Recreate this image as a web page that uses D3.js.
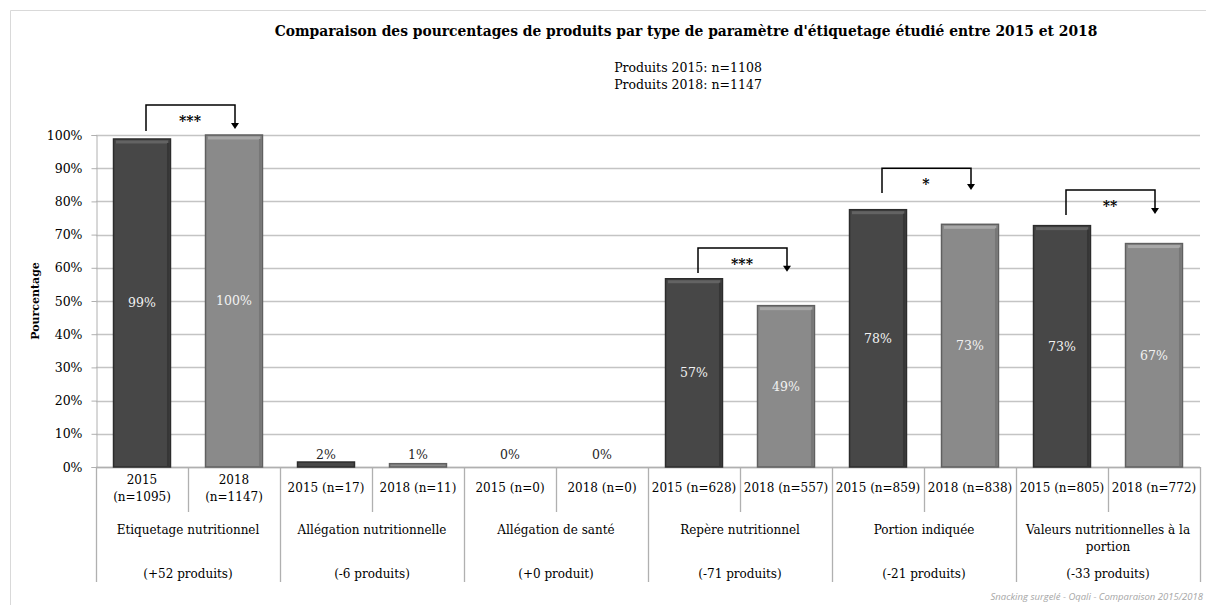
<!DOCTYPE html>
<html>
<head>
<meta charset="utf-8">
<script src="https://cdn.jsdelivr.net/npm/d3@7"></script>
<style>
  body { margin: 0; background: #fff; }
  svg { display: block; font-family: "DejaVu Serif", serif; }
</style>
</head>
<body>
<svg id="chart" width="1206" height="605"></svg>
<script>

// Chart data
const groups = ["Etiquetage nutritionnel", "Allégation nutritionnelle", "Allégation de santé",
  "Repère nutritionnel", "Portion indiquée", "Valeurs nutritionnelles à la portion"];
const groupChanges = ["(+52 produits)", "(-6 produits)", "(+0 produit)",
  "(-71 produits)", "(-21 produits)", "(-33 produits)"];
const labels2015 = ["2015 (n=1095)", "2015 (n=17)", "2015 (n=0)", "2015 (n=628)", "2015 (n=859)", "2015 (n=805)"];
const labels2018 = ["2018 (n=1147)", "2018 (n=11)", "2018 (n=0)", "2018 (n=557)", "2018 (n=838)", "2018 (n=772)"];
const values2015 = [98.8, 1.5, 0, 56.7, 77.5, 72.7];
const values2018 = [100, 1.0, 0, 48.6, 73.1, 67.3];
const valueLabels2015 = ["99%", "2%", "0%", "57%", "78%", "73%"];
const valueLabels2018 = ["100%", "1%", "0%", "49%", "73%", "67%"];
const yTicks = [0, 10, 20, 30, 40, 50, 60, 70, 80, 90, 100];

// Significance brackets (group index, heights in %)
const bracketGroups = [0, 3, 4, 5];
const bracketTop = [109, 66, 90, 83.4];
const bracketStart = [101.2, 58.4, 82.5, 75.9];
const bracketEnd = [101.8, 58.8, 83.4, 76.2];
const bracketStars = ["***", "***", "*", "**"];

const titleText = "Comparaison des pourcentages de produits par type de paramètre d'étiquetage étudié entre 2015 et 2018";
const subtitleLines = ["Produits 2015: n=1108", "Produits 2018: n=1147"];
const yTitle = "Pourcentage";
const footerText = "Snacking surgelé - Oqali - Comparaison 2015/2018";

// Build one row per bar
const bars = [];
groups.forEach((g, i) => {
  bars.push({key: "a" + i, group: i, year: 2015, value: values2015[i], label: labels2015[i], vlabel: valueLabels2015[i]});
  bars.push({key: "b" + i, group: i, year: 2018, value: values2018[i], label: labels2018[i], vlabel: valueLabels2018[i]});
});

// Display settings
const svg = d3.select('#chart');
const margin = {left: 96, right: 6, top: 135, bottom: 138};
const width = +svg.attr('width');
const height = +svg.attr('height');
const darkFill = '#474747', darkEdge = '#2c2c2c', darkTop = '#636363';
const lightFill = '#8a8a8a', lightEdge = '#606060', lightTop = '#a8a8a8';
const gridColor = '#c4c4c4';
const axisColor = '#b0b0b0';

const x = d3.scaleBand()
  .domain(bars.map(d => d.key))
  .range([margin.left, width - margin.right])
  .paddingInner(0.37)
  .paddingOuter(0.185);

const y = d3.scaleLinear()
  .domain([0, 100])
  .range([height - margin.bottom, margin.top]);

const step = x.step();
const slotLeft = key => x(key) - step * x.paddingInner() / 2;
const y0 = y(0);

// Outer frame
svg.append('path')
  .attr('d', `M10.5,${height} V10.5 H${width}`)
  .attr('fill', 'none')
  .attr('stroke', '#d9d9d9')
  .attr('stroke-width', 1);

// Title and subtitle
svg.append('text')
  .attr('x', 686).attr('y', 36)
  .attr('text-anchor', 'middle')
  .style('font-weight', 'bold')
  .style('font-size', '13.85px')
  .text(titleText);

svg.append('g').selectAll('text')
  .data(subtitleLines)
  .join('text')
  .attr('x', 688)
  .attr('y', (d, i) => 72 + i * 17)
  .attr('text-anchor', 'middle')
  .style('font-size', '12.5px')
  .text(d => d);

// Gridlines
svg.append('g')
  .selectAll('line')
  .data(yTicks)
  .join('line')
  .attr('x1', margin.left).attr('x2', width - margin.right)
  .attr('y1', d => Math.round(y(d)) + 0.5).attr('y2', d => Math.round(y(d)) + 0.5)
  .attr('stroke', gridColor)
  .attr('stroke-width', 1.3);

// Y axis
const yAxis = svg.append('g')
  .attr('transform', `translate(${margin.left + 0.5},0)`)
  .call(d3.axisLeft(y).tickValues(yTicks).tickFormat(d => d + '%').tickSize(5).tickPadding(9));
yAxis.select('.domain').attr('stroke', axisColor);
yAxis.selectAll('.tick line').attr('stroke', axisColor);
yAxis.selectAll('.tick text')
  .style('font-family', '"DejaVu Serif", serif')
  .style('font-size', '12.5px')
  .attr('fill', '#000');

svg.append('text')
  .attr('transform', `translate(39,${(y(0) + y(100)) / 2}) rotate(-90)`)
  .attr('text-anchor', 'middle')
  .style('font-weight', 'bold')
  .style('font-size', '11px')
  .text(yTitle);

// Category axis lines
svg.append('line')
  .attr('x1', margin.left).attr('x2', width - margin.right)
  .attr('y1', y0 + 0.5).attr('y2', y0 + 0.5)
  .attr('stroke', axisColor).attr('stroke-width', 1.3);

const edges = bars.map(d => slotLeft(d.key)).concat([width - margin.right]);
svg.append('g')
  .selectAll('line')
  .data(edges)
  .join('line')
  .attr('x1', d => Math.round(d) + 0.5).attr('x2', d => Math.round(d) + 0.5)
  .attr('y1', y0)
  .attr('y2', (d, i) => i % 2 === 0 ? 582 : 512)
  .attr('stroke', axisColor)
  .attr('stroke-width', 1.3);

// Bars with a simple bevel look
const barG = svg.append('g')
  .selectAll('g')
  .data(bars)
  .join('g')
  .attr('transform', d => `translate(${x(d.key)},0)`);

barG.filter(d => d.value > 0).append('rect')
  .attr('x', 0.5)
  .attr('y', d => y(d.value))
  .attr('width', x.bandwidth() - 1)
  .attr('height', d => y0 - y(d.value))
  .attr('fill', d => d.year === 2015 ? darkFill : lightFill)
  .attr('stroke', d => d.year === 2015 ? darkEdge : lightEdge)
  .attr('stroke-width', 1.5);

barG.filter(d => y0 - y(d.value) > 8).append('rect')
  .attr('x', 3)
  .attr('y', d => y(d.value) + 1.5)
  .attr('width', x.bandwidth() - 6)
  .attr('height', 3)
  .attr('fill', d => d.year === 2015 ? darkTop : lightTop);

barG.filter(d => y0 - y(d.value) > 8).append('rect')
  .attr('x', x.bandwidth() - 4)
  .attr('y', d => y(d.value) + 4)
  .attr('width', 2.5)
  .attr('height', d => y0 - y(d.value) - 5)
  .attr('fill', d => d.year === 2015 ? '#363636' : '#777777');

// Value labels
barG.append('text')
  .attr('x', x.bandwidth() / 2)
  .attr('y', d => d.value > 10 ? (y(d.value) + y0) / 2 : y0 - 8)
  .attr('dy', d => d.value > 10 ? '0.35em' : 0)
  .attr('text-anchor', 'middle')
  .attr('fill', d => d.value > 10 ? '#f2f2f2' : '#262626')
  .style('font-size', '12.5px')
  .text(d => d.vlabel);

// Wrap text into lines that fit a width
function wrapLines(textSel, str, maxWidth) {
  const words = str.split(' ');
  const lines = [];
  let line = [];
  words.forEach(w => {
    const trial = line.concat([w]).join(' ');
    textSel.text(trial);
    if (textSel.node().getComputedTextLength() > maxWidth && line.length) {
      lines.push(line.join(' '));
      line = [w];
    } else {
      line.push(w);
    }
  });
  lines.push(line.join(' '));
  textSel.text(null);
  return lines;
}

// Bar category labels (vertically centred)
svg.append('g')
  .selectAll('text')
  .data(bars)
  .join('text')
  .attr('text-anchor', 'middle')
  .style('font-size', '12px')
  .each(function(d) {
    const t = d3.select(this);
    const lines = wrapLines(t, d.label, step - 3);
    const cx = x(d.key) + x.bandwidth() / 2;
    const top = 488 - (lines.length - 1) * 8.5;
    lines.forEach((l, i) => {
      t.append('tspan').attr('x', cx).attr('y', top + i * 17).attr('dy', '0.35em').text(l);
    });
  });

// Group labels and product change
const groupCenter = i => slotLeft('a' + i) + step;
svg.append('g')
  .selectAll('text')
  .data(groups)
  .join('text')
  .attr('text-anchor', 'middle')
  .style('font-size', '12px')
  .each(function(d, i) {
    const t = d3.select(this);
    const lines = wrapLines(t, d, step * 2 - 10);
    lines.forEach((l, j) => {
      t.append('tspan').attr('x', groupCenter(i)).attr('y', 530 + j * 17).attr('dy', '0.35em').text(l);
    });
  });

svg.append('g')
  .selectAll('text')
  .data(groupChanges)
  .join('text')
  .attr('x', (d, i) => groupCenter(i))
  .attr('y', 574)
  .attr('dy', '0.35em')
  .attr('text-anchor', 'middle')
  .style('font-size', '12px')
  .text(d => d);

// Significance brackets with arrows
const br = svg.append('g').selectAll('g')
  .data(bracketGroups)
  .join('g');

br.append('path')
  .attr('d', (g, i) => {
    const xl = x('a' + g) + x.bandwidth() / 2 + 4;
    const xr = x('b' + g) + x.bandwidth() / 2 + 1;
    return `M${xl},${y(bracketStart[i])} V${y(bracketTop[i])} H${xr} V${y(bracketEnd[i]) - 5}`;
  })
  .attr('fill', 'none')
  .attr('stroke', '#000')
  .attr('stroke-width', 1.5);

br.append('path')
  .attr('d', (g, i) => {
    const xr = x('b' + g) + x.bandwidth() / 2 + 1;
    const ty = y(bracketEnd[i]);
    return `M${xr - 4},${ty - 6} L${xr + 4},${ty - 6} L${xr},${ty} Z`;
  })
  .attr('fill', '#000');

br.append('text')
  .attr('x', g => (x('a' + g) + x('b' + g)) / 2 + x.bandwidth() / 2 + 2)
  .attr('y', (g, i) => y(bracketTop[i]) + 21)
  .attr('text-anchor', 'middle')
  .style('font-weight', 'bold')
  .style('font-size', '14px')
  .text((g, i) => bracketStars[i]);

// Footer
svg.append('text')
  .attr('x', 1203).attr('y', 600)
  .attr('text-anchor', 'end')
  .attr('fill', '#a6a6a6')
  .style('font-family', '"Open Sans", sans-serif')
  .style('font-style', 'italic')
  .style('font-size', '9.5px')
  .text(footerText);

</script>
</body>
</html>
